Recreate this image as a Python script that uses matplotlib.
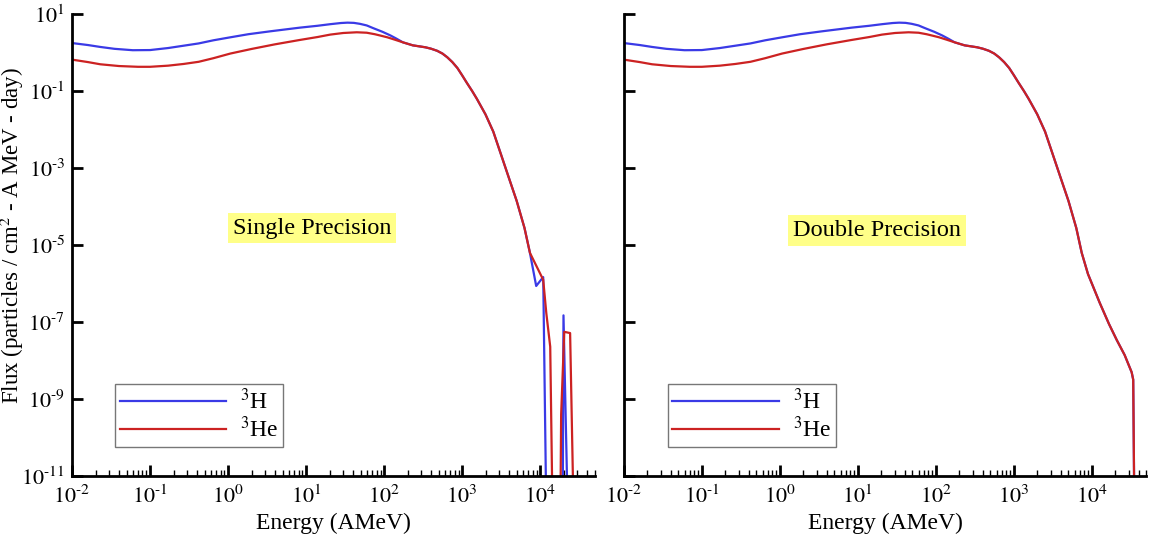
import numpy as np
import matplotlib
matplotlib.use('Agg')
from matplotlib import pyplot as plt
from matplotlib.ticker import LogLocator, NullLocator

plt.rcParams['font.family'] = ['Liberation Serif', 'DejaVu Serif']
plt.rcParams['mathtext.fontset'] = 'stix'

# shared low-energy part, 3H (blue) and 3He (red)
e_h = [0.01, 0.016, 0.023, 0.035, 0.06, 0.1, 0.17, 0.27, 0.42, 0.65, 1.07, 1.82, 3.5,
       8.3, 14, 20.4, 28, 33.9, 41, 49, 60, 72, 95, 120, 145, 174, 234]
f_h = [1.78, 1.58, 1.41, 1.26, 1.16, 1.17, 1.32, 1.52, 1.74, 2.1, 2.51, 3.02, 3.6,
       4.47, 5.0, 5.5, 5.9, 6.03, 5.95, 5.62, 5.1, 4.37, 3.5, 2.82, 2.3, 1.86, 1.55]
e_he = [0.01, 0.016, 0.023, 0.04, 0.07, 0.1, 0.17, 0.27, 0.42, 0.65, 1.07, 2.0, 4.0,
        8.3, 14, 20.4, 30, 44.7, 60, 76, 92, 110, 140, 174, 234]
f_he = [0.66, 0.57, 0.50, 0.45, 0.43, 0.43, 0.46, 0.51, 0.58, 0.72, 0.95, 1.25, 1.65,
        2.14, 2.55, 2.95, 3.25, 3.39, 3.3, 3.02, 2.75, 2.51, 2.15, 1.86, 1.55]

# both species overlap above ~200 AMeV
e_common = [290, 339, 400, 479, 560, 646, 750, 871, 1000, 1148, 1350, 1549, 1995, 2512,
            3162, 3981, 5012, 6310, 7413]
f_common = [1.45, 1.38, 1.27, 1.12, 0.95, 0.76, 0.57, 0.40, 0.26, 0.166, 0.1, 0.063, 0.025,
            8.9e-3, 2.24e-3, 5.6e-4, 1.41e-4, 2.8e-5, 6.3e-6]

# single precision tails (1e-12 = dropped to zero, below the axis)
e_h_single = [8913, 10965, 11100, 12023, 19498, 19953, 22650]
f_h_single = [8.7e-7, 1.48e-6, 2.5e-7, 1e-12, 1e-12, 1.5e-7, 1e-12]
e_he_single = [10965, 12023, 13490, 14454, 18197, 18621, 20417, 24266, 26915]
f_he_single = [1.26e-6, 1.7e-7, 2.3e-8, 1e-12, 1e-12, 4e-10, 5.6e-8, 5.2e-8, 1e-12]

# double precision tail (same for both)
e_double = [8913, 12589, 16596, 20893, 26303, 32359, 33884, 35075]
f_double = [1.78e-6, 3.2e-7, 8.9e-8, 3.4e-8, 1.4e-8, 5e-9, 3.2e-9, 1e-12]

blue = '#3a3ae6'
red = '#cc2222'
yticks = [1e1, 1e-1, 1e-3, 1e-5, 1e-7, 1e-9, 1e-11]
ytick_labels = ['$10^{1}$', r'$10^{\text{-}1}$', r'$10^{\text{-}3}$', r'$10^{\text{-}5}$',
                r'$10^{\text{-}7}$', r'$10^{\text{-}9}$', r'$10^{\text{-}11}$']
xticks = [1e-2, 1e-1, 1e0, 1e1, 1e2, 1e3, 1e4]
xtick_labels = [r'$10^{\text{-}2}$', r'$10^{\text{-}1}$', '$10^{0}$', '$10^{1}$',
                '$10^{2}$', '$10^{3}$', '$10^{4}$']

fig = plt.figure(figsize=(11.51, 5.46), dpi=100)
ax1 = fig.add_axes([0.0626, 0.128, 0.454, 0.846])
ax2 = fig.add_axes([0.542, 0.128, 0.454, 0.846])

panels = [
    (ax1, e_h_single, f_h_single, e_he_single, f_he_single, 'Single Precision', 0.459, 0.537, 0.082),
    (ax2, e_double, f_double, e_double, f_double, 'Double Precision', 0.484, 0.532, 0.084),
]

for ax, eh_t, fh_t, ehe_t, fhe_t, title, tx, ty, lx in panels:
    ax.plot(e_h + e_common + eh_t, f_h + f_common + fh_t, color=blue, lw=1.6, label='$^{3}$H')
    ax.plot(e_he + e_common + ehe_t, f_he + f_common + fhe_t, color=red, lw=1.6, label='$^{3}$He')
    ax.set_xscale('log')
    ax.set_yscale('log')
    ax.set_xlim(1e-2, 5e4)
    ax.set_ylim(1e-11, 1e1)
    ax.spines['top'].set_visible(False)
    ax.spines['right'].set_visible(False)
    ax.spines['left'].set_linewidth(2)
    ax.spines['bottom'].set_linewidth(2)
    ax.set_xticks(xticks)
    ax.set_xticklabels(xtick_labels)
    ax.xaxis.set_minor_locator(LogLocator(base=10, subs=np.arange(2, 10), numticks=20))
    ax.set_yticks(yticks)
    ax.yaxis.set_minor_locator(NullLocator())
    ax.tick_params(which='major', direction='in', length=8, width=2, labelsize=16, pad=5)
    ax.tick_params(which='minor', direction='in', length=4, width=1)
    ax.tick_params(axis='x', which='major', pad=7)
    ax.set_xlabel('Energy (AMeV)', fontsize=17, labelpad=3)
    ax.text(tx, ty, title, transform=ax.transAxes, fontsize=17.5, ha='center', va='center',
            bbox=dict(boxstyle='square,pad=0.2', facecolor='#ffff88', edgecolor='none'))
    leg = ax.legend(loc='lower left', bbox_to_anchor=(lx, 0.063), borderaxespad=0,
                    fontsize=17, handlelength=4.5, fancybox=False, framealpha=1,
                    edgecolor='#777777', borderpad=0.2, labelspacing=0.1, handletextpad=0.6)
    leg.get_frame().set_linewidth(1)

ax1.set_yticklabels(ytick_labels)
ax2.set_yticklabels([])
ax1.set_ylabel('Flux (particles / cm$^{2}$ - A MeV - day)', fontsize=16.5)
ax1.yaxis.set_label_coords(-0.088, 0.52)

fig.savefig('out.png', dpi=100)
